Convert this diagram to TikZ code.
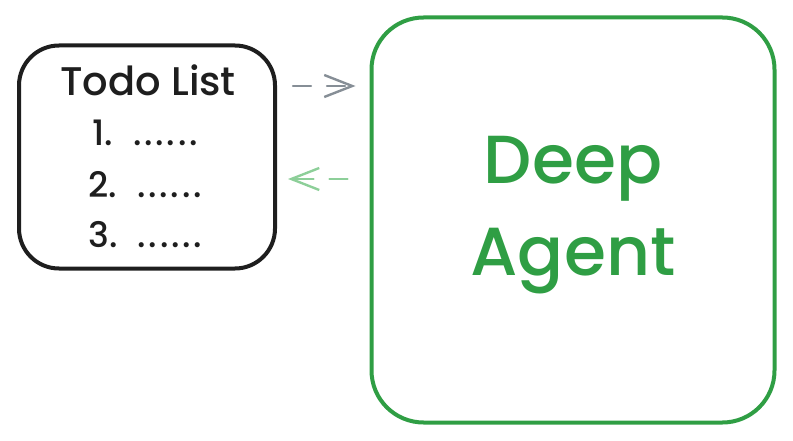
\documentclass[tikz,border=0pt]{standalone}
\usepackage{fontspec}
\setmainfont{Poppins Medium}
\newfontfamily\dotfont[LetterSpace=8]{Poppins Medium}
\usetikzlibrary{arrows.meta}

\definecolor{inkblack}{HTML}{1E1E1E}
\definecolor{agentgreen}{HTML}{2F9E44}
\definecolor{linkgray}{HTML}{868E96}
\definecolor{palegreen}{HTML}{8DCF99}

\tikzset{
  todobox/.style={draw=inkblack,line width=4pt,rounded corners=40pt,
    minimum width=256pt,minimum height=223pt},
  agentbox/.style={draw=agentgreen,line width=4pt,rounded corners=52pt,
    minimum width=403pt,minimum height=405pt},
  link/.style={line width=2.4pt,line cap=round,dash pattern=on 18pt off 16pt,
    -{Straight Barb[length=28pt,width=22pt,line width=2.4pt]}},
  itemtext/.style={anchor=west,text=inkblack,font=\fontsize{35}{40}\selectfont}
}

\begin{document}
\begin{tikzpicture}[x=1pt,y=-1pt]
\useasboundingbox (0,0) rectangle (793,441);

\node[todobox] (todo) at (147,157) {};
\node[agentbox] (agent) at (573,220) {};

\node[text=inkblack,font=\fontsize{40}{44}\selectfont] (title) at (148,80) {Todo List};
\node[itemtext] (item1) at (89,133) {1.\hspace{20pt}{\dotfont ......}};
\node[itemtext] (item2) at (85,185) {2.\hspace{20pt}{\dotfont ......}};
\node[itemtext] (item3) at (85,235) {3.\hspace{20pt}{\dotfont ......}};

\node[text=agentgreen,align=center,font=\fontsize{68}{92}\selectfont] (label) at (573,215) {Deep\\Agent};

\coordinate (out) at (todo.east |- 0,86);
\coordinate (in) at (agent.west |- 0,86);
\coordinate (back) at (agent.west |- 0,179);
\coordinate (ret) at (todo.east |- 0,179);

\draw[link,draw=linkgray] ([xshift=16pt]out) -- ([xshift=-14pt]in);
\draw[link,draw=palegreen] ([xshift=-22pt]back) -- ([xshift=11pt]ret);

\end{tikzpicture}
\end{document}
